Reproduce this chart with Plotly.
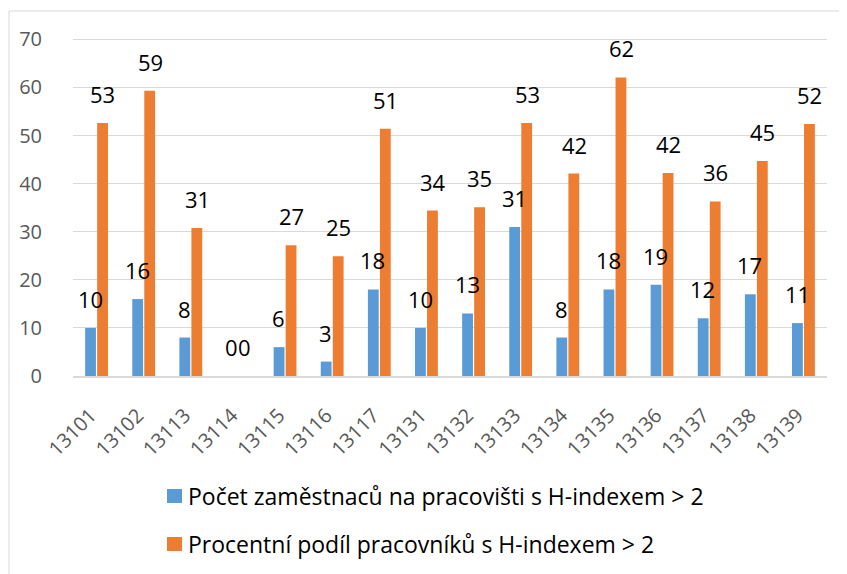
import plotly.graph_objects as go

categories = ["13101", "13102", "13113", "13114", "13115", "13116", "13117", "13131",
              "13132", "13133", "13134", "13135", "13136", "13137", "13138", "13139"]
pocet = [10, 16, 8, 0, 6, 3, 18, 10, 13, 31, 8, 18, 19, 12, 17, 11]
procento = [52.6, 59.3, 30.8, 0, 27.2, 24.9, 51.4, 34.4, 35.1, 52.6, 42.1, 62.1, 42.2, 36.3, 44.7, 52.4]
series_names = ["Počet zaměstnaců na pracovišti s H-indexem > 2",
                "Procentní podíl pracovníků s H-indexem > 2"]
colors = ["#5B9BD5", "#ED7D31"]
y_ticks = [0, 10, 20, 30, 40, 50, 60, 70]

FONT = "Open Sans"
W, H = 847, 574
OFF = 8  # page body margin in the browser
ML, MR, MT, MB = 65, 28, 29, 206
PW, PH = W - ML - MR, H - MT - MB


def px_x(px):
    """screen pixel x -> paper fraction"""
    return (px - OFF - ML) / PW


def px_y(py):
    """screen pixel y -> paper fraction"""
    return (H - MB - (py - OFF)) / PH


fig = go.Figure()
for name, vals, col in zip(series_names, [pocet, procento], colors):
    fig.add_trace(go.Bar(x=categories, y=vals, name=name, marker_color=col,
                         marker_line_width=0, showlegend=False))

annotations = []
for vals, shift in [(pocet, -6.4), (procento, 6.4)]:
    for i, v in enumerate(vals):
        annotations.append(dict(x=i, y=v, xref="x", yref="y", text=f"{v:.0f}",
                                showarrow=False, xanchor="center", yanchor="bottom",
                                xshift=shift, yshift=12,
                                font=dict(family=FONT, size=22, color="#000000")))

# chart frame + legend drawn below the plot (one entry per row)
shapes = [dict(type="rect", xref="paper", yref="paper",
               x0=px_x(9), x1=px_x(843), y0=px_y(600), y1=px_y(11),
               line=dict(color="#D9D9D9", width=1), layer="below")]
legend_rows = [496, 544]
for name, col, ry in zip(series_names, colors, legend_rows):
    shapes.append(dict(type="rect", xref="paper", yref="paper",
                       x0=px_x(167), x1=px_x(182), y0=px_y(ry + 7), y1=px_y(ry - 7),
                       fillcolor=col, line=dict(width=0)))
    annotations.append(dict(x=px_x(186), y=px_y(ry), xref="paper", yref="paper",
                            text=name, showarrow=False, xanchor="left", yanchor="middle",
                            font=dict(family=FONT, size=23, color="#000000")))

fig.update_layout(
    width=W, height=H,
    margin=dict(l=ML, r=MR, t=MT, b=MB),
    paper_bgcolor="white", plot_bgcolor="white",
    barmode="group", bargap=0.49, bargroupgap=0.1,
    font=dict(family=FONT),
    annotations=annotations,
    shapes=shapes,
    showlegend=False,
)
fig.update_xaxes(type="category", range=[-0.5, len(categories) - 0.5], autorange=False,
                 tickangle=-45, showgrid=False, showline=True,
                 linecolor="#D9D9D9", linewidth=1.5, ticks="",
                 tickfont=dict(family=FONT, size=20, color="#595959"),
                 ticklabelstandoff=18, ticklabelshift=-6, automargin=False)
fig.update_yaxes(range=[0, 70.5], autorange=False, tickvals=y_ticks, showgrid=True,
                 gridcolor="#D9D9D9", gridwidth=1.3, zeroline=False, showline=False,
                 ticks="", tickfont=dict(family=FONT, size=20, color="#595959"),
                 ticklabelstandoff=30, automargin=False)

fig.write_html("out.html")
